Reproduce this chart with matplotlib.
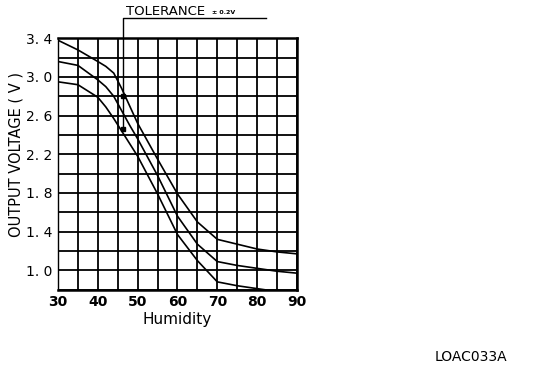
import matplotlib
matplotlib.use("Agg")
import matplotlib.pyplot as plt
from matplotlib.ticker import MultipleLocator

humidity = [30, 35, 40, 42, 44, 46, 48, 50, 55, 60, 65, 70, 75, 80, 85, 90]
v_upper = [3.38, 3.28, 3.16, 3.11, 3.04, 2.88, 2.70, 2.52, 2.15, 1.79, 1.50, 1.32, 1.27, 1.22, 1.19, 1.17]
v_nominal = [3.16, 3.12, 2.97, 2.90, 2.80, 2.65, 2.50, 2.36, 1.98, 1.56, 1.27, 1.09, 1.05, 1.02, 0.99, 0.97]
v_lower = [2.95, 2.92, 2.79, 2.69, 2.57, 2.44, 2.31, 2.18, 1.79, 1.37, 1.10, 0.88, 0.84, 0.81, 0.78, 0.76]

x_ticks = [30, 40, 50, 60, 70, 80, 90]
y_ticks = [1.0, 1.4, 1.8, 2.2, 2.6, 3.0, 3.4]
y_tick_labels = ["1. 0", "1. 4", "1. 8", "2. 2", "2. 6", "3. 0", "3. 4"]

tol_x = 46.3
tol_marks_v = [2.80, 2.46]

fig = plt.figure(figsize=(5.44, 3.72), dpi=100)
ax = fig.add_axes([0.1066, 0.2215, 0.4393, 0.6755])
ax.set_xlim(30, 90)
ax.set_ylim(0.8, 3.4)

ax.xaxis.set_minor_locator(MultipleLocator(5))
ax.yaxis.set_minor_locator(MultipleLocator(0.2))
ax.set_xticks(x_ticks)
ax.set_yticks(y_ticks)
ax.set_yticklabels(y_tick_labels)
ax.grid(True, which="both", color="black", linewidth=1.3)
ax.set_axisbelow(True)
ax.tick_params(which="both", length=0, pad=4)
for lab in ax.get_xticklabels():
    lab.set_fontsize(10)
    lab.set_fontweight("bold")
for lab in ax.get_yticklabels():
    lab.set_fontsize(10)

for s in ["top", "right", "bottom"]:
    ax.spines[s].set_linewidth(1.8)
ax.spines["left"].set_linewidth(1.0)

for series in (v_upper, v_nominal, v_lower):
    ax.plot(humidity, series, color="black", linewidth=1.2)

ax.plot([tol_x] * 2, tol_marks_v, ls="none", marker="s", ms=3.5, color="black")
# tolerance leader line
ax.plot([tol_x, tol_x, 82.2], [tol_marks_v[1], 3.61, 3.61], color="black",
        linewidth=1.0, clip_on=False)

ax.set_xlabel("Humidity", fontsize=11, labelpad=2)
fig.text(0.029, 0.585, "OUTPUT VOLTAGE ( V )", rotation=90, ha="center", va="center",
         fontsize=10.5)
fig.text(0.231, 0.968, "TOLERANCE", ha="left", va="center", fontsize=9.5)
fig.text(0.39, 0.966, "± 0.2V", ha="left", va="center", fontsize=4.5,
         fontweight="bold")
fig.text(0.865, 0.04, "LOAC033A", ha="center", va="center", fontsize=10)

fig.savefig("out.png", dpi=100)
